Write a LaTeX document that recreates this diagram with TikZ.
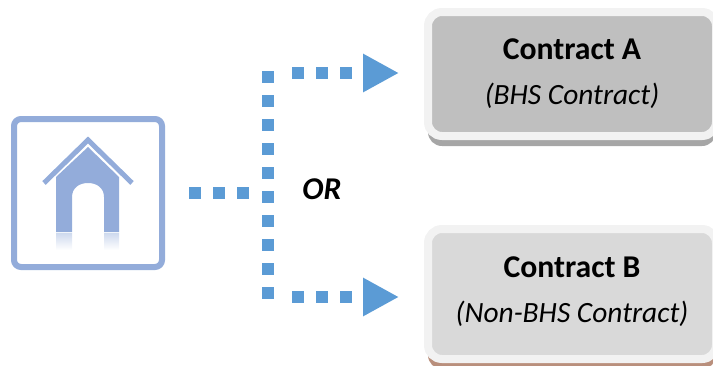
\documentclass[tikz,border=0pt]{standalone}
\usepackage{fontspec}
\setmainfont{Carlito}
\usetikzlibrary{arrows.meta, shadows, positioning}
\definecolor{dotblue}{HTML}{5B9BD5}
\definecolor{homeblue}{HTML}{93ACDA}
\definecolor{rimgray}{HTML}{F2F2F2}
\definecolor{cardA}{HTML}{BFBFBF}
\definecolor{cardB}{HTML}{D9D9D9}
\definecolor{shadeA}{HTML}{A6A6A6}
\definecolor{shadeB}{HTML}{B98F7C}
\newcommand{\cardtitle}[1]{{\fontsize{31.7}{45}\selectfont\bfseries #1}}
\tikzstyle{dotline} = [dotblue, line width=12pt, dash pattern=on 12pt off 12pt]
\tikzstyle{arrow} = [dotline, -{Triangle[length=36pt,width=36pt]}]
\tikzstyle{card} = [rectangle, draw=rimgray, line width=8pt, rounded corners=14pt, minimum width=288pt, align=center, font=\fontsize{29.4}{45}\selectfont]
\tikzstyle{homebox} = [rectangle, draw=homeblue, line width=6pt, rounded corners=7pt, minimum width=148pt, minimum height=148pt]
\tikzset{every node/.style={align=center}}

\begin{document}
\begin{tikzpicture}[x=1pt, y=-1pt, node distance=220pt]
    \useasboundingbox (0,0) rectangle (713,365);
    \clip (0,0) rectangle (713,365);
    \node (home) [homebox] at (88,193) {};
    \node (contractA) [card, fill=cardA, minimum height=124pt, right of=home, xshift=264pt, yshift=119pt,
        drop shadow={shadow xshift=0pt, shadow yshift=-10pt, fill=shadeA, opacity=1}]
        {\cardtitle{Contract A}\\\textit{(BHS Contract)}};
    \node (contractB) [card, fill=cardB, minimum height=130pt, text depth=8.5pt, below of=contractA,
        drop shadow={shadow xshift=0pt, shadow yshift=-10pt, fill=shadeB, opacity=1}]
        {\cardtitle{Contract B}\\\textit{(Non-BHS Contract)}};
    \node (orlabel) [font=\fontsize{31.7}{36}\selectfont\bfseries\itshape] at (322,189) {OR};

    \coordinate (trunkTop) at (268,71);
    \coordinate (trunkBottom) at (268,299);
    \coordinate (branchMid) at (255,193);
    \coordinate (branchTop) at (292,73);
    \coordinate (branchBottom) at (292,297);

    \fill [homeblue] (56,177) -- (88,147) -- (119,177) -- (119,232) -- (104,232) -- (104,197)
        .. controls (104,188) and (97,183) .. (88,183) .. controls (79,183) and (72,188) .. (72,197)
        -- (72,232) -- (56,232) -- cycle;
    \draw [homeblue, line width=5pt] (44,183) -- (88,140) -- (132,183);
    \shade [top color=homeblue!45, bottom color=white] (56,233) rectangle (72,250);
    \shade [top color=homeblue!45, bottom color=white] (104,233) rectangle (119,250);

    \draw [dotline, shorten <=24pt] (home.east |- branchMid) -- (branchMid);
    \draw [dotline] (trunkTop) -- (trunkBottom);
    \draw [arrow, shorten >=25pt] (branchTop) -- (contractA.west |- branchTop);
    \draw [arrow, shorten >=25pt] (branchBottom) -- (contractB.west |- branchBottom);
\end{tikzpicture}
\end{document}
